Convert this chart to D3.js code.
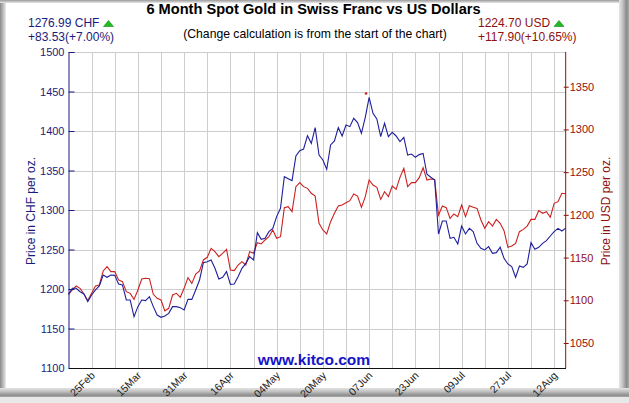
<!DOCTYPE html>
<html><head><meta charset="utf-8">
<script src="https://cdn.jsdelivr.net/npm/d3@7"></script>
<style>html,body{margin:0;padding:0;background:#fff;}svg{display:block;}</style>
</head><body>
<script>
// ---- data ----
const chfValues = [1193.3,1200.9,1200.9,1196.6,1193.7,1184.0,1192.4,1198.8,1203.8,1217.7,
1214.8,1217.7,1217.3,1206.3,1205.1,1186.1,1186.1,1165.0,1177.7,1186.1,
1185.3,1190.3,1177.7,1167.1,1164.2,1165.9,1169.2,1177.7,1177.7,1176.4,
1173.4,1186.9,1186.9,1198.8,1211.4,1233.3,1234.6,1236.7,1226.2,1212.7,
1214.8,1222.0,1205.9,1206.3,1215.6,1226.2,1232.5,1240.9,1236.7,1271.3,
1262.9,1264.1,1272.6,1276.8,1291.6,1302.1,1342.2,1339.7,1337.2,1368.4,
1375.1,1377.2,1394.1,1384.4,1404.2,1369.6,1363.3,1351.5,1382.3,1387.4,
1404.2,1393.7,1407.6,1405.5,1416.0,1410.6,1397.1,1417.3,1442.6,1422.4,
1415.2,1392.8,1409.7,1392.8,1398.3,1393.7,1386.5,1392.0,1369.6,1370.9,
1366.7,1370.1,1371.7,1345.2,1341.4,1338.0,1269.6,1286.1,1286.1,1264.2,
1265.4,1257.0,1279.7,1269.6,1276.8,1272.6,1257.8,1251.5,1249.4,1253.6,
1245.2,1246.0,1252.8,1238.8,1231.7,1228.3,1214.8,1229.1,1227.4,1231.7,
1258.7,1250.2,1252.8,1257.8,1261.2,1267.1,1272.6,1276.8,1273.4,1276.99];

const usdValues = [1106.8,1112.1,1116.7,1114.0,1107.4,1099.6,1108.1,1116.7,1117.9,1134.3,
1139.4,1133.5,1133.5,1123.8,1121.8,1110.1,1108.1,1101.1,1112.1,1124.9,
1125.7,1125.3,1107.0,1102.3,1100.3,1087.5,1090.6,1106.2,1108.1,1103.5,
1114.0,1126.5,1119.8,1130.8,1134.3,1147.2,1150.3,1160.8,1156.9,1151.1,
1155.0,1159.7,1135.5,1134.7,1141.3,1145.2,1141.3,1156.9,1155.0,1167.5,
1165.9,1170.6,1174.4,1182.3,1172.5,1174.4,1208.4,1209.6,1203.7,1233.0,
1237.7,1233.0,1231.0,1225.2,1222.0,1190.0,1182.3,1177.6,1192.0,1201.8,
1210.3,1211.5,1214.2,1216.6,1224.4,1222.0,1208.8,1221.3,1240.8,1234.9,
1232.2,1218.1,1227.1,1221.3,1233.8,1229.8,1243.9,1254.4,1233.0,1237.7,
1237.7,1243.5,1255.2,1240.8,1241.9,1241.5,1199.8,1210.3,1208.4,1195.9,
1201.0,1197.9,1211.5,1197.9,1210.7,1208.8,1207.6,1194.0,1184.2,1192.0,
1186.9,1194.7,1190.1,1181.5,1162.0,1163.5,1166.6,1180.3,1183.0,1186.9,
1194.7,1194.7,1204.9,1201.8,1203.7,1197.1,1213.5,1215.4,1225.2,1224.70];

const usdMarker = [{i: 77.2, v: 1342}];

const dateLabels = ["25Feb","15Mar","31Mar","16Apr","04May","20May","07Jun","23Jun","09Jul","27Jul","12Aug"];
const dateLabelIdx = [6,18,30,42,54,66,78,90,102,114,126];
const gridIdx = d3.range(6, 127, 6);
const chfTicks = [1100,1150,1200,1250,1300,1350,1400,1450,1500];
const usdTicks = [1050,1100,1150,1200,1250,1300,1350];

const title = "6 Month Spot Gold in Swiss Franc vs US Dollars";
const subtitle = "(Change calculation is from the start of the chart)";
const chfLast = "1276.99 CHF", chfChange = "+83.53(+7.00%)";
const usdLast = "1224.70 USD", usdChange = "+117.90(+10.65%)";

// ---- layout ----
const W = 629, H = 403;
const L = 68.5, R = 565.7, T = 52, B = 368;
const navy = "#1b1b7e", dred = "#8e1010", blue = "#1f1f9c", red = "#cc2020";
const font = "Liberation Sans, Arial, sans-serif";

const svg = d3.select("body").append("svg").attr("width", W).attr("height", H);
const defs = svg.append("defs");
function lg(id, x1,y1,x2,y2, stops){
  const g = defs.append("linearGradient").attr("id",id).attr("x1",x1).attr("y1",y1).attr("x2",x2).attr("y2",y2);
  stops.forEach(s=>g.append("stop").attr("offset",s[0]).attr("stop-color",s[1]));
}
lg("gl","0","0","1","0",[[0,"#8a8a8a"],[0.5,"#b8b8b8"],[1,"#ececec"]]);
lg("gr","0","0","1","0",[[0,"#e6e6e6"],[0.35,"#c4c4c4"],[0.75,"#8c8c8c"],[1,"#a8a8a8"]]);
lg("gb","0","0","0","1",[[0,"#e4e4e4"],[0.4,"#c0c0c0"],[0.8,"#8e8e8e"],[1,"#a6a6a6"]]);
lg("gt","0","0","0","1",[[0,"#9a9a9a"],[1,"#e8e8e8"]]);

// frame
svg.append("rect").attr("width",W).attr("height",H).attr("fill","#d4d4d4");
svg.append("rect").attr("x",0).attr("y",397).attr("width",W).attr("height",6).attr("fill","#e8e8e8");
svg.append("rect").attr("x",0).attr("y",0).attr("width",6).attr("height",390).attr("fill","url(#gl)");
svg.append("rect").attr("x",0).attr("y",0).attr("width",620).attr("height",3).attr("fill","url(#gt)");
svg.append("rect").attr("x",6).attr("y",3).attr("width",613).attr("height",385).attr("fill","#ffffff");
svg.append("rect").attr("x",619).attr("y",0).attr("width",10).attr("height",397).attr("fill","url(#gr)");
svg.append("rect").attr("x",0).attr("y",388).attr("width",629).attr("height",9).attr("fill","url(#gb)");

// scales
const x = d3.scaleLinear().domain([0, chfValues.length-1]).range([L, R]);
const yL = d3.scaleLinear().domain([1100,1500]).range([B, T]);
const yR = d3.scaleLinear().domain([1050,1350]).range([343, 86.7]);

// grid
const grid = svg.append("g").attr("shape-rendering","crispEdges").attr("stroke","#cdcdcd").attr("stroke-width",1);
grid.selectAll("line.v").data(gridIdx).join("line").attr("class","v")
  .attr("x1",d=>Math.round(x(d))+0.5).attr("x2",d=>Math.round(x(d))+0.5).attr("y1",T).attr("y2",B);
grid.selectAll("line.h").data(chfTicks.slice(1)).join("line").attr("class","h")
  .attr("x1",L).attr("x2",R).attr("y1",d=>Math.round(yL(d))+0.5).attr("y2",d=>Math.round(yL(d))+0.5);

// lines
const lineCHF = d3.line().x((d,i)=>x(i)).y(d=>yL(d));
const lineUSD = d3.line().x((d,i)=>x(i)).y(d=>yR(d));
svg.append("path").datum(usdValues).attr("d",lineUSD).attr("fill","none").attr("stroke",red).attr("stroke-width",1.1);
svg.append("path").datum(chfValues).attr("d",lineCHF).attr("fill","none").attr("stroke",blue).attr("stroke-width",1.1);
svg.selectAll("circle.mk").data(usdMarker).join("circle").attr("class","mk")
  .attr("cx",d=>x(d.i)).attr("cy",d=>yR(d.v)).attr("r",1.3).attr("fill",red);

// axes
const axL = svg.append("g").attr("transform",`translate(${L},0)`)
  .call(d3.axisLeft(yL).tickValues(chfTicks).tickSize(-6).tickPadding(4).tickFormat(d3.format("d")));
axL.select(".domain").attr("stroke",navy);
axL.selectAll(".tick line").attr("stroke",navy);
axL.selectAll(".tick text").attr("fill",navy).attr("font-family",font).attr("font-size",11);

const axR = svg.append("g").attr("transform",`translate(${R},0)`)
  .call(d3.axisRight(yR).tickValues(usdTicks).tickSize(3).tickPadding(1).tickFormat(d3.format("d")));
axR.select(".domain").attr("stroke",dred).attr("d",`M0,${T}V${B}`);
axR.selectAll(".tick line").attr("stroke",dred).attr("x1",-2);
axR.selectAll(".tick text").attr("fill",dred).attr("font-family",font).attr("font-size",11);

svg.append("line").attr("x1",L).attr("x2",R).attr("y1",B+0.5).attr("y2",B+0.5).attr("stroke","#111").attr("shape-rendering","crispEdges");

// x labels
svg.append("g").selectAll("text").data(dateLabelIdx).join("text")
  .attr("transform",d=>`translate(${x(d)+4},${B+8}) rotate(-45)`)
  .attr("text-anchor","end").attr("font-family",font).attr("font-size",10.5).attr("fill","#222")
  .text((d,i)=>dateLabels[i]);

// axis titles
svg.append("text").attr("transform",`translate(35,211) rotate(-90)`).attr("text-anchor","middle")
  .attr("font-family",font).attr("font-size",12).attr("fill",navy).text("Price in CHF per oz.");
svg.append("text").attr("transform",`translate(610,211) rotate(-90)`).attr("text-anchor","middle")
  .attr("font-family",font).attr("font-size",12).attr("fill",dred).text("Price in USD per oz.");

// titles
svg.append("text").attr("x",313.5).attr("y",14).attr("text-anchor","middle").attr("font-family",font)
  .attr("font-weight","bold").attr("font-size",14.6).attr("fill","#000").text(title);
svg.append("text").attr("x",315).attr("y",38).attr("text-anchor","middle").attr("font-family",font)
  .attr("font-size",12.2).attr("fill","#000").text(subtitle);

// summaries
const tri = (cx, cy) => `M${cx-5},${cy+3}L${cx},${cy-3}L${cx+5},${cy+3}Z`;
svg.append("text").attr("x",28).attr("y",27).attr("font-family",font).attr("font-size",12).attr("fill",navy).text(chfLast);
svg.append("text").attr("x",28).attr("y",41).attr("font-family",font).attr("font-size",12).attr("fill",navy).text(chfChange);
svg.append("path").attr("d",tri(108.5,23.5)).attr("fill","#22bb22").attr("stroke","#118811").attr("stroke-width",0.6);
svg.append("text").attr("x",478).attr("y",27).attr("font-family",font).attr("font-size",12).attr("fill",dred).text(usdLast);
svg.append("text").attr("x",478).attr("y",41).attr("font-family",font).attr("font-size",12).attr("fill",dred).text(usdChange);
svg.append("path").attr("d",tri(559,23.5)).attr("fill","#22bb22").attr("stroke","#118811").attr("stroke-width",0.6);

// watermark
svg.append("text").attr("x",314).attr("y",365).attr("text-anchor","middle").attr("font-family",font)
  .attr("font-weight","bold").attr("font-size",15.5).attr("fill","#1414c8").text("www.kitco.com");
</script>
</body></html>
